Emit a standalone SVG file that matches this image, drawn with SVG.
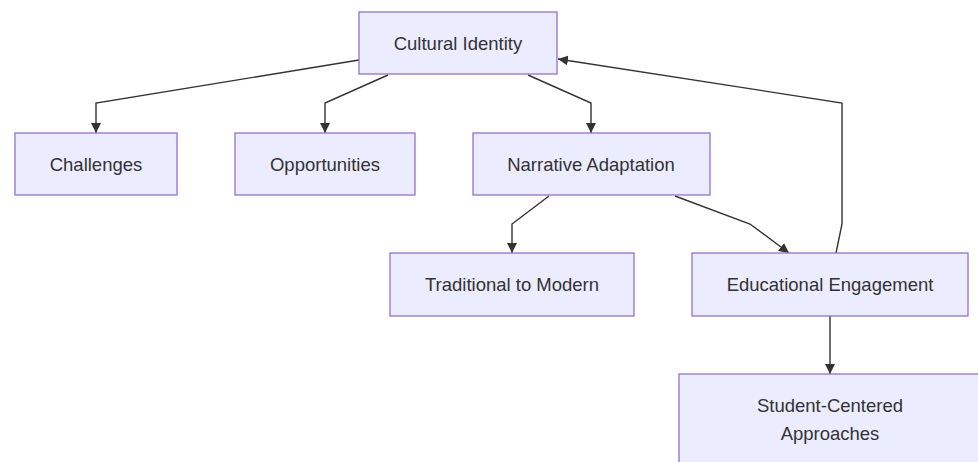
<svg xmlns="http://www.w3.org/2000/svg" width="978" height="462" viewBox="0 0 978 462">
<style>
.node rect{fill:#ECECFF;stroke:#9370DB;stroke-width:1.3}
.node text{font-family:"Liberation Sans",Arial,sans-serif;font-size:18.5px;fill:#333;text-anchor:middle;dominant-baseline:central}
.edge{fill:none;stroke:#333;stroke-width:1.4}
</style>
<defs>
<marker id="arr" viewBox="0 0 10 10" refX="10" refY="5" markerWidth="10" markerHeight="10" markerUnits="userSpaceOnUse" orient="auto">
<path d="M0,0 L10,5 L0,10 z" fill="#333"/>
</marker>
</defs>
<rect width="978" height="462" fill="#fff"/>
<g id="connectors">
<path class="edge" d="M359,60 L96,103 L96,133" marker-end="url(#arr)"/>
<path class="edge" d="M388,75 L325,103 L325,133" marker-end="url(#arr)"/>
<path class="edge" d="M528,75 L591,103 L591,133" marker-end="url(#arr)"/>
<path class="edge" d="M549,196 L512,224 L512,253" marker-end="url(#arr)"/>
<path class="edge" d="M675,196 L750,224 L789,253" marker-end="url(#arr)"/>
<path class="edge" d="M836,253 L842,224 L842,103 L558,59" marker-end="url(#arr)"/>
<path class="edge" d="M830,316 L830,374" marker-end="url(#arr)"/>
</g>
<g id="cultural-identity" class="node"><rect x="359" y="12" width="198" height="62"/><text x="458" y="43">Cultural Identity</text></g>
<g id="challenges" class="node"><rect x="15" y="133" width="162" height="62"/><text x="96" y="164">Challenges</text></g>
<g id="opportunities" class="node"><rect x="235" y="133" width="180" height="62"/><text x="325" y="164">Opportunities</text></g>
<g id="narrative-adaptation" class="node"><rect x="473" y="133" width="237" height="62"/><text x="591" y="164">Narrative Adaptation</text></g>
<g id="traditional-to-modern" class="node"><rect x="390" y="253" width="244" height="63"/><text x="512" y="284">Traditional to Modern</text></g>
<g id="educational-engagement" class="node"><rect x="692" y="253" width="276" height="63"/><text x="830" y="284">Educational Engagement</text></g>
<g id="student-centered" class="node"><rect x="679" y="374" width="302" height="92"/><text x="830" y="405">Student-Centered</text><text x="830" y="433">Approaches</text></g>
</svg>
